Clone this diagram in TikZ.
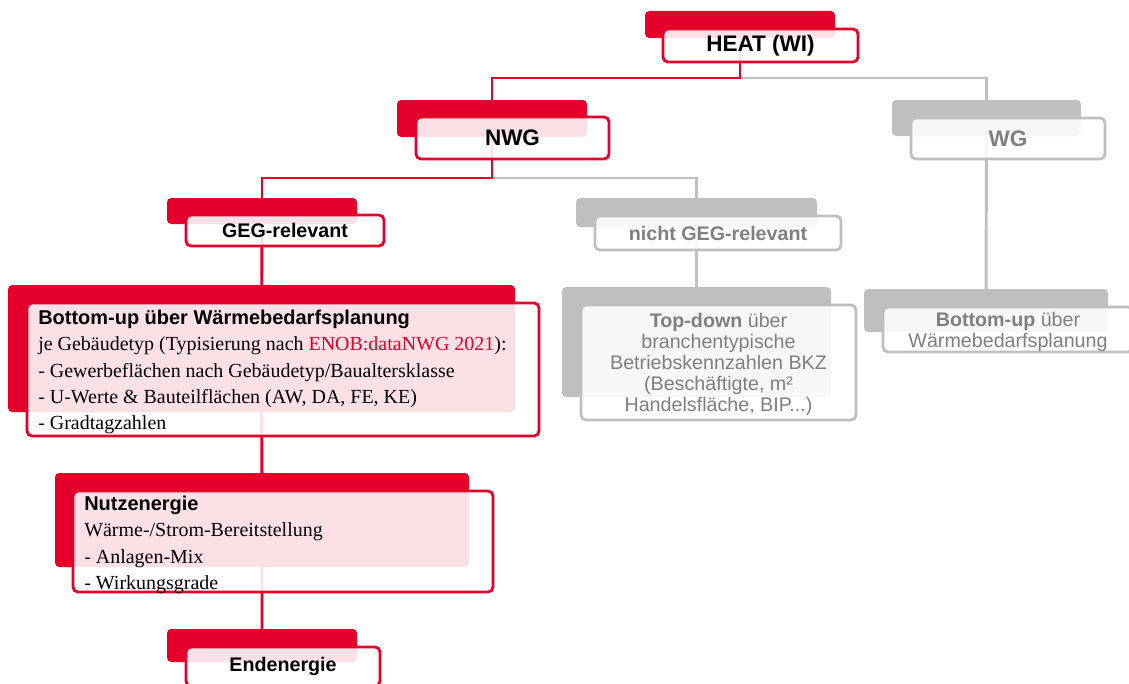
\documentclass[tikz,border=0pt]{standalone}
\usepackage{fontspec}
\setmainfont{Liberation Sans}
\newfontfamily\descserif{Liberation Serif}
\usepackage{xcolor}
\usetikzlibrary{fit,backgrounds}
\definecolor{hsred}{HTML}{E4002B}
\definecolor{hsgrey}{HTML}{BFBFBF}
\definecolor{hstext}{HTML}{7F7F7F}
\tikzset{
  back/.style={fill=#1,rounded corners=3pt,inner sep=0pt},
  front/.style={draw=#1,line width=2pt,fill=white,fill opacity=0.88,text opacity=1,rounded corners=3.5pt,inner sep=0pt},
  redline/.style={hsred,line width=2.1pt},
  greyline/.style={hsgrey,line width=2.1pt},
  headA/.style={inner sep=0pt,font=\fontsize{16}{19}\selectfont\bfseries},
  headB/.style={inner sep=0pt,font=\fontsize{14}{17}\selectfont\bfseries},
  greytext/.style={inner sep=0pt,text=hstext,align=center,font=\fontsize{14}{14.9}\selectfont},
  desc/.style={align=left,inner sep=0pt,font=\fontsize{14.2}{18.6}\selectfont\descserif}
}
\newcommand{\deschead}{\rmfamily\bfseries\fontsize{14.2}{18.6}\selectfont}

\begin{document}
\begin{tikzpicture}[x=0.025cm,y=-0.025cm]
\useasboundingbox (0,0) rectangle (1129,683);
\coordinate (lvlA) at (0,78);
\coordinate (lvlB) at (0,178);
%% top
\node[back=hsred,fit={(645,11) (835,38)}](heatB){};
\node[front=hsred,fit={(663,29) (858,62)}](heat){};
\node[headA](heatText) at (heat.center){HEAT (WI)};
%% second row
\node[back=hsred,fit={(397,100) (587,137)}](nwgB){};
\node[front=hsred,fit={(416,117) (609,159)}](nwg){};
\node[headA](nwgText) at (nwg.center){NWG};
\node[back=hsgrey,fit={(892,100) (1081,136)}](wgB){};
\node[front=hsgrey,fit={(911,118) (1105,159)}](wg){};
\node[headA,text=hstext](wgText) at (wg.center){WG};
%% third row
\node[back=hsred,fit={(167,198) (357,224)}](gegB){};
\node[front=hsred,fit={(186,215) (384,246)}](geg){};
\node[headB](gegText) at (geg.center){GEG-relevant};
\node[back=hsgrey,fit={(576,198) (817,227)}](ngegB){};
\node[front=hsgrey,fit={(595,216) (841,250)}](ngeg){};
\node[headB,text=hstext](ngegText) at (ngeg.center){nicht GEG-relevant};
%% methods
\node[back=hsred,fit={(8,285) (515,412)}](bupB){};
\node[front=hsred,fit={(27,303) (539,436)}](bup){};
\node[desc,anchor=north west](bupText) at (38,310){{\deschead Bottom-up über Wärmebedarfsplanung}\\
je Gebäudetyp (Typisierung nach \textcolor{hsred}{ENOB:dataNWG 2021}):\\
- Gewerbeflächen nach Gebäudetyp/Baualtersklasse\\
- U-Werte \& Bauteilflächen (AW, DA, FE, KE)\\
- Gradtagzahlen};
\node[back=hsgrey,fit={(562,287) (831,397)}](tdB){};
\node[front=hsgrey,fit={(581,305) (856,420)}](td){};
\node[greytext](tdText) at ([yshift=-1.5pt]td.center){\textbf{Top-down} über\\
branchentypische\\
Betriebskennzahlen BKZ\\
(Beschäftigte, m²\\
Handelsfläche, BIP...)};
\node[back=hsgrey,fit={(864,289) (1108,332)}](wgbuB){};
\node[front=hsgrey,fit={(883,307) (1133,352)}](wgbu){};
\node[greytext,font=\fontsize{14}{15.2}\selectfont](wgbuText) at ([yshift=-1.5pt]wgbu.center){\textbf{Bottom-up} über\\
Wärmebedarfsplanung};
%% energy
\node[back=hsred,fit={(55,473) (469,567)}](nutzB){};
\node[front=hsred,fit={(73,491) (493,592)}](nutz){};
\node[desc,anchor=north west](nutzText) at (84,496){{\deschead Nutzenergie}\\
Wärme-/Strom-Bereitstellung\\
- Anlagen-Mix\\
- Wirkungsgrade};
\node[back=hsred,fit={(167,629) (357,662)}](endB){};
\node[front=hsred,fit={(186,647) (380,686)}](end){};
\node[headB](endText) at (end.center){Endenergie};
%% connectors
\begin{scope}[on background layer]
\draw[greyline](heatB.center |- lvlA) -| (wgB.center);
\draw[redline](heatB.center) -- (heatB.center |- lvlA) -| (nwgB.center);
\draw[greyline](nwgB.center |- lvlB) -| (ngegB.center);
\draw[redline](nwgB.center) -- (nwgB.center |- lvlB) -| (gegB.center);
\draw[greyline](ngegB.center) -- (tdB.center);
\draw[greyline](wgB.center) -- (wgbuB.center);
\draw[redline](gegB.center) -- (bupB.center) -- (nutzB.center) -- (endB.center);
\end{scope}
\end{tikzpicture}
\end{document}
